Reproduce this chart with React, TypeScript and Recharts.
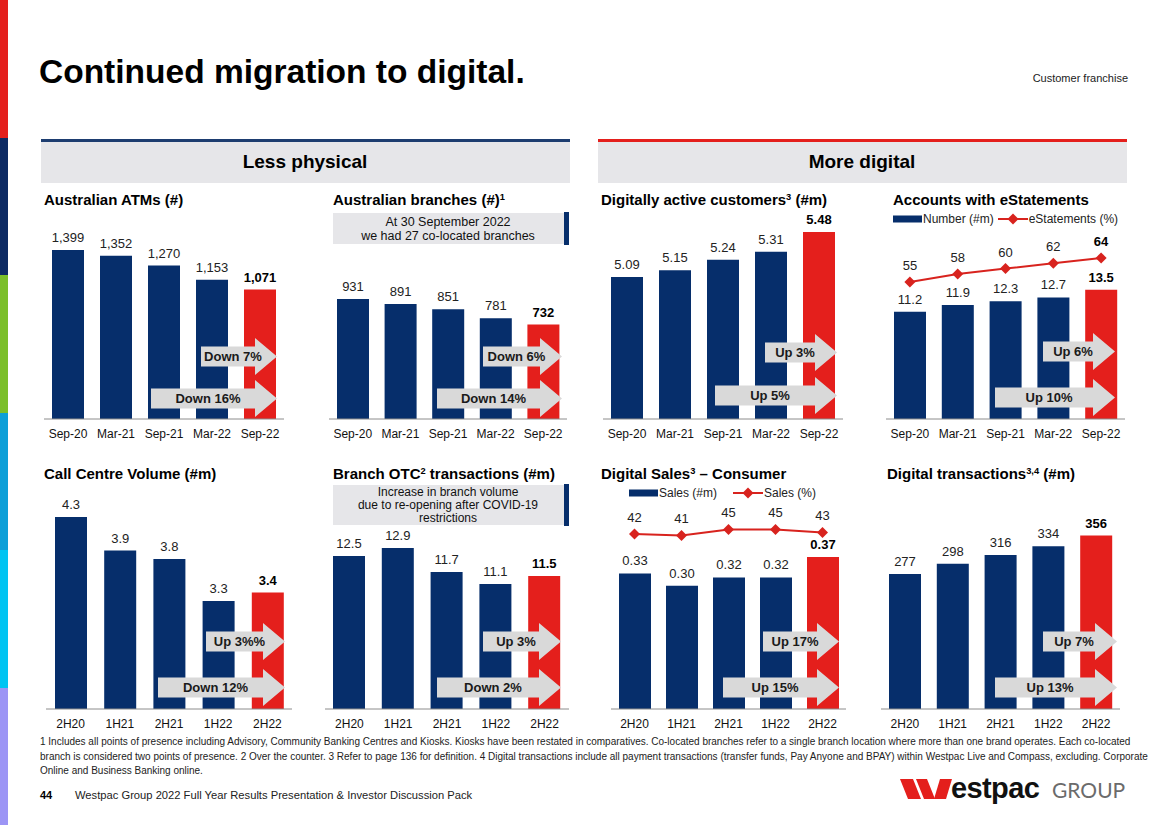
import React from "react";
import { Bar, Cell, ComposedChart, LabelList, Legend, Line, XAxis, YAxis } from "recharts";

const FONT = '"Liberation Sans", Arial, Helvetica, sans-serif';
const NAVY = "#062e6b";
const RED = "#e41f1c";
const LINE_RED = "#d8231e";
const ARROW_GREY = "#d9d9d9";
const BOX_GREY = "#e6e6e9";

// category labels
const monthEnds = ["Sep-20", "Mar-21", "Sep-21", "Mar-22", "Sep-22"];
const halfYears = ["2H20", "1H21", "2H21", "1H22", "2H22"];

// top row
const atms = [1399, 1352, 1270, 1153, 1071];
const branches = [931, 891, 851, 781, 732];
const digitalCustomers = [5.09, 5.15, 5.24, 5.31, 5.48];
const eStatementAccounts = [11.2, 11.9, 12.3, 12.7, 13.5];
const eStatementPct = [55, 58, 60, 62, 64];

// bottom row
const callCentre = [4.3, 3.9, 3.8, 3.3, 3.4];
const branchOtc = [12.5, 12.9, 11.7, 11.1, 11.5];
const digitalSales = [0.33, 0.3, 0.32, 0.32, 0.37];
const digitalSalesPct = [42, 41, 45, 45, 43];
const digitalTxns = [277, 298, 316, 334, 356];

const comma = (v: number) => v.toLocaleString("en-US");
const fix = (d: number) => (v: number) => v.toFixed(d);

function Txt({ x, cy, size, bold, color = "#000", anchor = "start", font = FONT, spacing, children }: any) {
  const w = 1200;
  const left = anchor === "start" ? x : anchor === "middle" ? x - w / 2 : x - w;
  return (
    <div
      style={{
        position: "absolute",
        left,
        top: cy - size * 0.49,
        width: w,
        height: size,
        lineHeight: `${size}px`,
        fontSize: size,
        fontFamily: font,
        fontWeight: bold ? 700 : 400,
        color,
        letterSpacing: spacing,
        textAlign: anchor === "start" ? "left" : anchor === "middle" ? "center" : "right",
        whiteSpace: "nowrap",
      }}
    >
      {children}
    </div>
  );
}

const Sup = ({ children }: any) => (
  <sup style={{ fontSize: "0.62em", lineHeight: 0, verticalAlign: "0.55em" }}>{children}</sup>
);

// grey block arrow with the change text
function Arrow({ x1, x2, cy, label }: { x1: number; x2: number; cy: number; label: string }) {
  const head = 22;
  const bodyH = 20;
  const headH = 37;
  const w = x2 - x1;
  const b0 = (headH - bodyH) / 2;
  const b1 = (headH + bodyH) / 2;
  return (
    <svg style={{ position: "absolute", left: x1, top: cy - headH / 2 }} width={w} height={headH}>
      <polygon
        points={`0,${b0} ${w - head},${b0} ${w - head},0 ${w},${headH / 2} ${w - head},${headH} ${w - head},${b1} 0,${b1}`}
        fill={ARROW_GREY}
      />
      <text
        x={w / 2 - 6}
        y={headH / 2}
        dy="0.36em"
        textAnchor="middle"
        fontFamily={FONT}
        fontWeight="bold"
        fontSize={13}
        fill="#1a1a1a"
      >
        {label}
      </text>
    </svg>
  );
}

function Diamond({ cx, cy }: { cx: number; cy: number }) {
  return <path d={`M${cx},${cy - 5.5} L${cx + 5.5},${cy} L${cx},${cy + 5.5} L${cx - 5.5},${cy} Z`} fill={LINE_RED} />;
}

type MiniProps = {
  x: number;
  baseline: number;
  width: number;
  plotH: number;
  cats: string[];
  values: number[];
  domain: [number, number];
  fmt: (v: number) => string;
  pct?: number[];
  pctDomain?: [number, number];
  pctBoldLast?: boolean;
  barName?: string;
  pctName?: string;
  legendLeft?: number;
  legendTop?: number;
  legendGap?: number;
};

function MiniChart(p: MiniProps) {
  const rows = p.cats.map((c, i) => ({ cat: c, value: p.values[i], pct: p.pct ? p.pct[i] : undefined }));
  const last = rows.length - 1;

  const barLabel = (lp: any) => {
    const idx = lp.index ?? (lp.value === p.values[last] ? last : -1);
    const bold = idx === last;
    return (
      <text
        x={Number(lp.x) + Number(lp.width) / 2}
        y={Number(lp.y) - 8}
        textAnchor="middle"
        fontFamily={FONT}
        fontSize={13}
        fontWeight={bold ? "bold" : "normal"}
        fill={bold ? "#000" : "#222"}
      >
        {p.fmt(Number(lp.value))}
      </text>
    );
  };

  const pctLabel = (lp: any) => {
    const idx = lp.index ?? (p.pct && lp.value === p.pct[last] ? last : -1);
    const bold = !!p.pctBoldLast && idx === last;
    return (
      <text
        x={Number(lp.x)}
        y={Number(lp.y) - 12}
        textAnchor="middle"
        fontFamily={FONT}
        fontSize={13}
        fontWeight={bold ? "bold" : "normal"}
        fill={bold ? "#000" : "#222"}
      >
        {lp.value}
      </text>
    );
  };

  const legendContent = (lp: any) => {
    const items = [...(lp.payload ?? [])].sort((a: any, b: any) => (a.type === "rect" ? 0 : 1) - (b.type === "rect" ? 0 : 1));
    return (
      <div style={{ display: "flex", alignItems: "center", fontFamily: FONT, fontSize: 12, color: "#222", whiteSpace: "nowrap" }}>
        {items.map((it: any, i: number) => (
          <div key={i} style={{ display: "flex", alignItems: "center", marginRight: i === 0 ? p.legendGap ?? 4 : 0 }}>
            {it.type === "line" ? (
              <svg width={30} height={12}>
                <line x1={0} y1={6} x2={30} y2={6} stroke={LINE_RED} strokeWidth={2} />
                <Diamond cx={15} cy={6} />
              </svg>
            ) : (
              <svg width={29} height={12}>
                <rect x={0} y={2.5} width={29} height={7} fill={NAVY} />
              </svg>
            )}
            <span style={{ marginLeft: 1 }}>{it.value}</span>
          </div>
        ))}
      </div>
    );
  };

  return (
    <div style={{ position: "absolute", left: p.x, top: p.baseline - p.plotH }}>
      <ComposedChart width={p.width} height={p.plotH + 30} data={rows} margin={{ top: 0, right: 0, bottom: 0, left: 0 }}>
        <XAxis
          dataKey="cat"
          axisLine={{ stroke: "#8c8c8c" }}
          tickLine={false}
          interval={0}
          tick={{ fill: "#111", fontSize: 12, fontFamily: FONT }}
          tickMargin={4}
          height={30}
        />
        <YAxis yAxisId="v" type="number" hide domain={p.domain} allowDataOverflow />
        {p.pct && <YAxis yAxisId="p" type="number" orientation="right" hide domain={p.pctDomain} allowDataOverflow />}
        <Bar yAxisId="v" dataKey="value" name={p.barName} barSize={32} fill={NAVY} legendType="rect" isAnimationActive={false}>
          {rows.map((_, i) => (
            <Cell key={i} fill={i === last ? RED : NAVY} />
          ))}
          <LabelList dataKey="value" content={barLabel} />
        </Bar>
        {p.pct && (
          <Line
            yAxisId="p"
            dataKey="pct"
            name={p.pctName}
            stroke={LINE_RED}
            strokeWidth={2}
            legendType="line"
            isAnimationActive={false}
            activeDot={false}
            dot={(dp: any) => <Diamond key={dp.index} cx={dp.cx} cy={dp.cy} />}
          >
            <LabelList dataKey="pct" content={pctLabel} />
          </Line>
        )}
        {p.barName && (
          <Legend
            layout="horizontal"
            verticalAlign="middle"
            align="center"
            wrapperStyle={{ position: "absolute", left: p.legendLeft, top: p.legendTop, width: "auto", height: 14 }}
            content={legendContent}
          />
        )}
      </ComposedChart>
    </div>
  );
}

function Logo() {
  return (
    <>
      <svg style={{ position: "absolute", left: 900, top: 779 }} width={52} height={20}>
        <polygon points="0,0 13,0 21,20 8,20" fill={RED} />
        <polygon points="16,0 27,0 35,20 24,20" fill={RED} />
        <polygon points="40,0 52,0 46,20 34,20" fill={RED} />
      </svg>
      <Txt x={951} cy={788} size={29} bold spacing={-0.6} color="#111">
        estpac
      </Txt>
      <Txt x={1052} cy={789} size={21} color="#6b6b6b" font='Lato, "Liberation Sans", sans-serif'>
        GROUP
      </Txt>
    </>
  );
}

const STRIPES = ["#e41f1c", "#0d2a63", "#7bbf2a", "#0d9fd8", "#00c4f2", "#9c95f5"];

export default function App() {
  return (
    <div style={{ position: "absolute", left: 0, top: 0, width: 1168, height: 825, background: "#fff", overflow: "hidden", fontFamily: FONT }}>
      {/* colour strip on the left edge */}
      {STRIPES.map((c, i) => (
        <div key={c} style={{ position: "absolute", left: 0, top: (825 / 6) * i, width: 8, height: 825 / 6 + 1, background: c }} />
      ))}

      <Txt x={39} cy={71} size={33.5} bold>
        Continued migration to digital.
      </Txt>
      <Txt x={1128} cy={78} size={11} anchor="end" color="#222">
        Customer franchise
      </Txt>

      {/* section headers */}
      <div style={{ position: "absolute", left: 41, top: 139, width: 529, height: 44, background: BOX_GREY, borderTop: "3px solid #1d3d70", boxSizing: "border-box" }} />
      <Txt x={305} cy={161} size={19} bold anchor="middle">
        Less physical
      </Txt>
      <div style={{ position: "absolute", left: 598, top: 139, width: 529, height: 44, background: BOX_GREY, borderTop: "3px solid #e41f1c", boxSizing: "border-box" }} />
      <Txt x={862} cy={161} size={19} bold anchor="middle">
        More digital
      </Txt>

      {/* chart titles */}
      <Txt x={44} cy={199} size={15} bold>Australian ATMs (#)</Txt>
      <Txt x={333} cy={199} size={15} bold>
        Australian branches (#)<Sup>1</Sup>
      </Txt>
      <Txt x={601} cy={199} size={15} bold>
        Digitally active customers<Sup>3</Sup> (#m)
      </Txt>
      <Txt x={893} cy={199} size={15} bold>Accounts with eStatements</Txt>
      <Txt x={44} cy={473} size={15} bold>Call Centre Volume (#m)</Txt>
      <Txt x={333} cy={473} size={15} bold>
        Branch OTC<Sup>2</Sup> transactions (#m)
      </Txt>
      <Txt x={601} cy={473} size={15} bold>
        Digital Sales<Sup>3</Sup> – Consumer
      </Txt>
      <Txt x={887} cy={473} size={15} bold>
        Digital transactions<Sup>3,4</Sup> (#m)
      </Txt>

      {/* note boxes */}
      <div style={{ position: "absolute", left: 333, top: 213, width: 231, height: 31, background: BOX_GREY }} />
      <div style={{ position: "absolute", left: 564, top: 212, width: 5, height: 33, background: NAVY }} />
      <Txt x={448} cy={222} size={12.5} anchor="middle" color="#111">At 30 September 2022</Txt>
      <Txt x={448} cy={236} size={12.5} anchor="middle" color="#111">we had 27 co-located branches</Txt>

      <div style={{ position: "absolute", left: 333, top: 485, width: 231, height: 40, background: BOX_GREY }} />
      <div style={{ position: "absolute", left: 564, top: 484, width: 5, height: 42, background: NAVY }} />
      <Txt x={448} cy={492} size={12} anchor="middle" color="#111">Increase in branch volume</Txt>
      <Txt x={448} cy={505} size={12} anchor="middle" color="#111">due to re-opening after COVID-19</Txt>
      <Txt x={448} cy={518} size={12} anchor="middle" color="#111">restrictions</Txt>

      {/* top row */}
      <MiniChart x={44} baseline={419} width={240} plotH={210} cats={monthEnds} values={atms} domain={[0, 1738]} fmt={comma} />
      <MiniChart x={329} baseline={419} width={238} plotH={210} cats={monthEnds} values={branches} domain={[0, 1628]} fmt={comma} />
      <MiniChart x={603} baseline={419} width={240} plotH={210} cats={monthEnds} values={digitalCustomers} domain={[3.86, 5.68]} fmt={fix(2)} />
      <MiniChart
        x={886}
        baseline={419}
        width={239}
        plotH={210}
        cats={monthEnds}
        values={eStatementAccounts}
        domain={[0, 21.94]}
        fmt={fix(1)}
        pct={eStatementPct}
        pctDomain={[3.7, 82.3]}
        pctBoldLast
        barName="Number (#m)"
        pctName="eStatements (%)"
        legendLeft={7}
        legendTop={3}
        legendGap={4}
      />

      {/* bottom row */}
      <MiniChart x={46} baseline={709} width={246} plotH={240} cats={halfYears} values={callCentre} domain={[2.014, 4.871]} fmt={fix(1)} />
      <MiniChart x={325} baseline={709} width={244} plotH={240} cats={halfYears} values={branchOtc} domain={[4.85, 16.85]} fmt={fix(1)} />
      <MiniChart
        x={611}
        baseline={709}
        width={235}
        plotH={240}
        cats={halfYears}
        values={digitalSales}
        domain={[0, 0.584]}
        fmt={fix(2)}
        pct={digitalSalesPct}
        pctDomain={[-74.7, 85.3]}
        barName="Sales (#m)"
        pctName="Sales (%)"
        legendLeft={18}
        legendTop={17}
        legendGap={16}
      />
      <MiniChart x={881} baseline={709} width={239} plotH={240} cats={halfYears} values={digitalTxns} domain={[0, 492.8]} fmt={comma} />

      {/* change arrows */}
      <Arrow x1={201} x2={277} cy={356} label="Down 7%" />
      <Arrow x1={151} x2={277} cy={398} label="Down 16%" />
      <Arrow x1={483} x2={562} cy={356} label="Down 6%" />
      <Arrow x1={437} x2={562} cy={398} label="Down 14%" />
      <Arrow x1={765} x2={837} cy={352} label="Up 3%" />
      <Arrow x1={715} x2={837} cy={395} label="Up 5%" />
      <Arrow x1={1043} x2={1115} cy={351} label="Up 6%" />
      <Arrow x1={995} x2={1115} cy={397} label="Up 10%" />
      <Arrow x1={206} x2={285} cy={641} label="Up 3%%" />
      <Arrow x1={158} x2={285} cy={687} label="Down 12%" />
      <Arrow x1={483} x2={561} cy={641} label="Up 3%" />
      <Arrow x1={437} x2={561} cy={687} label="Down 2%" />
      <Arrow x1={763} x2={839} cy={641} label="Up 17%" />
      <Arrow x1={723} x2={839} cy={687} label="Up 15%" />
      <Arrow x1={1043} x2={1117} cy={641} label="Up 7%" />
      <Arrow x1={995} x2={1117} cy={687} label="Up 13%" />

      {/* footnotes */}
      <Txt x={40} cy={742} size={10} color="#222">
        1 Includes all points of presence including Advisory, Community Banking Centres and Kiosks. Kiosks have been restated in comparatives. Co-located branches refer to a single branch location where more than one brand operates. Each co-located
      </Txt>
      <Txt x={40} cy={757} size={10} color="#222">
        branch is considered two points of presence. 2 Over the counter. 3 Refer to page 136 for definition. 4 Digital transactions include all payment transactions (transfer funds, Pay Anyone and BPAY) within Westpac Live and Compass, excluding. Corporate
      </Txt>
      <Txt x={40} cy={771} size={10} color="#222">
        Online and Business Banking online.
      </Txt>

      <Txt x={40} cy={795} size={11} bold>44</Txt>
      <Txt x={75} cy={795} size={11.2} color="#222">
        Westpac Group 2022 Full Year Results Presentation &amp; Investor Discussion Pack
      </Txt>

      <Logo />
    </div>
  );
}
